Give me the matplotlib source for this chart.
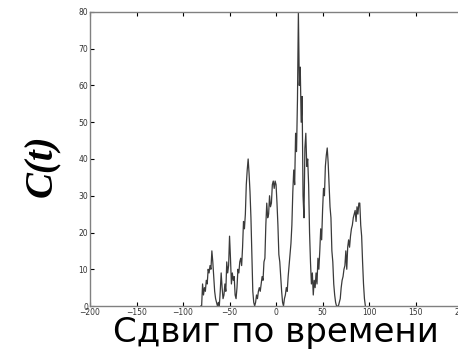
import matplotlib.pyplot as plt
import numpy as np

# сдвиг по времени (лаг) и значения C(t)
lags = np.arange(-81, 97)
c_vals = [0, 0, 6, 3, 5, 4, 7, 6, 10, 9, 11, 10, 15, 12, 8, 4, 2, 1, 0, 1,
          0, 4, 9, 5, 2, 3, 6, 4, 12, 9, 11, 19, 13, 6, 9, 7, 8, 3, 2, 5,
          10, 9, 12, 13, 11, 16, 23, 21, 25, 33, 37, 40, 36, 31, 24, 14, 4, 1, 0, 1,
          3, 2, 4, 5, 4, 6, 8, 7, 12, 13, 22, 28, 24, 25, 30, 27, 28, 33, 34, 32,
          34, 33, 28, 22, 14, 12, 8, 4, 1, 0, 2, 3, 5, 4, 8, 11, 14, 17, 22, 31,
          37, 33, 47, 42, 56, 80, 60, 65, 50, 57, 30, 24, 43, 47, 38, 40, 33, 20, 12, 6,
          9, 3, 7, 5, 9, 6, 13, 10, 15, 21, 18, 26, 32, 30, 38, 41, 43, 39, 33, 27,
          24, 15, 12, 6, 3, 1, 0, 0, 0, 1, 2, 5, 7, 8, 10, 11, 15, 10, 16, 18,
          16, 19, 21, 22, 24, 25, 26, 23, 27, 25, 28, 28, 22, 19, 12, 6, 2, 0]

xticks = [-200, -150, -100, -50, 0, 50, 100, 150, 200]
yticks = [0, 10, 20, 30, 40, 50, 60, 70, 80]

fig = plt.figure(figsize=(4.58, 3.56), dpi=100)
ax = fig.add_axes([0.1965, 0.1404, 0.8125, 0.826])

ax.plot(lags, c_vals, color='#3a3a3a', lw=0.9)

ax.set_xlim(-200, 200)
ax.set_ylim(0, 80)
ax.set_xticks(xticks)
ax.set_yticks(yticks)
ax.tick_params(direction='in', length=3, width=0.8, labelsize=5.5,
               labelcolor='#333333', pad=1.5, top=True, right=True)
for s in ax.spines.values():
    s.set_color('#808080')
    s.set_linewidth(1.0)

fig.text(0.092, 0.535, 'C(t)', rotation=90, ha='center', va='center',
         family='Liberation Serif', style='italic', weight='bold', fontsize=28)
fig.text(0.603, 0.066, 'Сдвиг по времени', ha='center', va='center',
         family='DejaVu Sans', fontsize=24.5)

fig.savefig('out.png', dpi=100)
